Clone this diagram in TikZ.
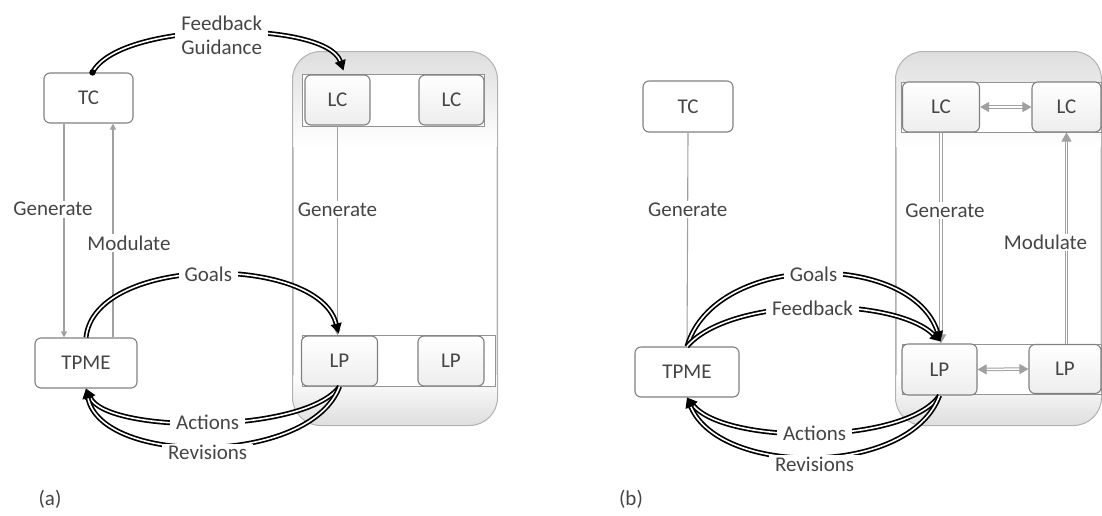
\documentclass[tikz,border=0pt]{standalone}
\usepackage{fontspec}
\setmainfont{Carlito}
\usetikzlibrary{arrows.meta,calc}
\definecolor{txt}{HTML}{454545}
\definecolor{bord}{HTML}{808080}
\definecolor{gline}{HTML}{A0A0A0}
\begin{document}
\begin{tikzpicture}[x=1pt,y=-1pt,
  box/.style={draw=bord, line width=1.1pt, rounded corners=6pt, fill=white, text=txt,
    font=\fontsize{21}{24}\selectfont, inner sep=0pt},
  sbox/.style={box, top color=white, bottom color=gray!14},
  strip/.style={draw=bord!85, line width=1pt, fill=white, inner sep=0pt},
  cont/.style={draw=gray!60, line width=1pt, rounded corners=28pt, fill=white, inner sep=0pt},
  lbl/.style={fill=white, text=txt, font=\fontsize{21}{24}\selectfont, inner sep=1.5pt},
  clbl/.style={lbl, inner xsep=6pt},
  bk/.style={draw=black, double=white, line width=1.7pt, double distance=1.6pt,
    -{Triangle[length=10pt,width=11pt]}},
  ga/.style={draw=gline, line width=1.1pt, -{Triangle[length=6pt,width=6pt]}},
  gd/.style={draw=gline, double=white, line width=1pt, double distance=1.5pt,
    -{Triangle[length=9pt,width=10pt]}},
]
\useasboundingbox (0,0) rectangle (1102,515);

% ---------- containers ----------
\node[cont, minimum width=204pt, minimum height=373pt] (CA) at (395,238.5) {};
\node[cont, minimum width=205pt, minimum height=373pt] (CB) at (998.5,238.5) {};
\foreach \c in {CA,CB}{
  \begin{scope}
    \clip[rounded corners=28pt] (\c.north west) rectangle (\c.south east);
    \shade[top color=gray!26, bottom color=white] (\c.north west) rectangle ($(\c.north east)+(0,95)$);
    \shade[top color=white, bottom color=gray!26] ($(\c.south west)+(0,-50)$) rectangle (\c.south east);
  \end{scope}
  \draw[gray!60, line width=1pt, rounded corners=28pt] (\c.north west) rectangle (\c.south east);
}

% ---------- panel (a) nodes ----------
\node[box, minimum width=89pt, minimum height=50pt] (TCa) at (88.5,98) {TC};
\node[box, minimum width=102pt, minimum height=50pt] (TPMEa) at (86,363) {TPME};
\node[strip, minimum width=182pt, minimum height=52pt] (LCsa) at (393,100) {};
\node[sbox, minimum width=65pt, minimum height=50pt] (LC1a) at (337.5,100) {LC};
\node[sbox, minimum width=65pt, minimum height=50pt] (LC2a) at (451.5,100) {LC};
\node[strip, minimum width=193pt, minimum height=51pt] (LPsa) at (398.5,360.5) {};
\node[sbox, minimum width=76pt, minimum height=50pt] (LP1a) at (339.5,361) {LP};
\node[sbox, minimum width=66pt, minimum height=50pt] (LP2a) at (451,361) {LP};

% ---------- panel (b) nodes ----------
\node[box, minimum width=90pt, minimum height=51pt] (TCb) at (688,106.5) {TC};
\node[box, minimum width=104pt, minimum height=50pt] (TPMEb) at (687,372) {TPME};
\node[strip, minimum width=200pt, minimum height=50pt] (LCsb) at (1001,107) {};
\node[sbox, minimum width=77pt, minimum height=50pt] (LC1b) at (941,107) {LC};
\node[sbox, minimum width=69pt, minimum height=50pt] (LC2b) at (1066.5,107) {LC};
\node[strip, minimum width=199pt, minimum height=50pt] (LPsb) at (1001.5,369.5) {};
\node[sbox, minimum width=75pt, minimum height=51pt] (LP1b) at (939.5,369.5) {LP};
\node[sbox, minimum width=72pt, minimum height=49pt] (LP2b) at (1065,369) {LP};

% ---------- gray connectors ----------
\coordinate (gA) at (64,0);
\coordinate (gB) at (113,0);
\draw[ga] (TCa.south -| gA) -- node[lbl, pos=0.4, xshift=-11pt] {Generate} (TPMEa.north -| gA);
\draw[ga] (TPMEa.north -| gB) -- node[lbl, pos=0.44, xshift=16pt] {Modulate} (TCa.south -| gB);
\draw[ga] (LC1a.south) -- node[lbl, pos=0.4] {Generate} (LC1a.south |- LP1a.north);

\draw[draw=gline, line width=1.1pt] (TCb.south) -- node[lbl, pos=0.36] {Generate} (TPMEb.north);
\draw[gd] (LC1b.south) -- node[lbl, pos=0.37, xshift=4pt] {Generate} (LC1b.south |- LP1b.north);
\draw[gd] (LC2b.south |- LP2b.north) -- node[lbl, pos=0.48, xshift=-21pt] {Modulate} (LC2b.south);
\draw[gd, {Triangle[length=9pt,width=10pt]}-{Triangle[length=9pt,width=10pt]}] (LC1b.east) -- (LC2b.west);
\draw[gd, {Triangle[length=9pt,width=10pt]}-{Triangle[length=9pt,width=10pt]}] (LP1b.east) -- (LP2b.west);

% ---------- black curves (a) ----------
\coordinate (fs) at ($(TCa.north)+(4,0)$);
\draw[bk] (fs) .. controls (120,20) and (326,20) .. ($(LC1a.north)+(6,-4)$)
  node[clbl, pos=0.5, align=center, yshift=-2pt] {Feedback\\Guidance};
\fill[black] (fs) circle (3.2pt);
\draw[bk] (TPMEa.north) .. controls (95,254) and (319,254) .. ($(LP1a.north)+(-1,-2)$)
  node[clbl, pos=0.5] {Goals};
\draw[bk] (LP1a.south) .. controls (305,434) and (107,434) .. (TPMEa.south)
  node[clbl, pos=0.5] {Actions};
\draw[bk] (LP1a.south) .. controls (310,466) and (102,466) .. (TPMEa.south)
  node[clbl, pos=0.5, yshift=-6pt] {Revisions};

% ---------- black curves (b) ----------
\draw[bk] (TPMEb.north) .. controls (715,251) and (912,251) .. ($(LP1b.north)+(1,-2)$)
  node[clbl, pos=0.5] {Goals};
\draw[bk] (TPMEb.north) .. controls (730,296) and (894,296) .. ($(LP1b.north)+(1,-2)$)
  node[clbl, pos=0.5] {Feedback};
\draw[bk] (LP1b.south) .. controls (905,445) and (725,445) .. (TPMEb.south)
  node[clbl, pos=0.5] {Actions};
\draw[bk] (LP1b.south) .. controls (910,477) and (720,477) .. (TPMEb.south)
  node[clbl, pos=0.5, yshift=-7pt] {Revisions};

% ---------- panel labels ----------
\node[text=txt, font=\fontsize{21}{24}\selectfont, inner sep=0pt] (la) at (50,499) {(a)};
\node[text=txt, font=\fontsize{21}{24}\selectfont, inner sep=0pt] (lb) at (631,499) {(b)};
\end{tikzpicture}
\end{document}
